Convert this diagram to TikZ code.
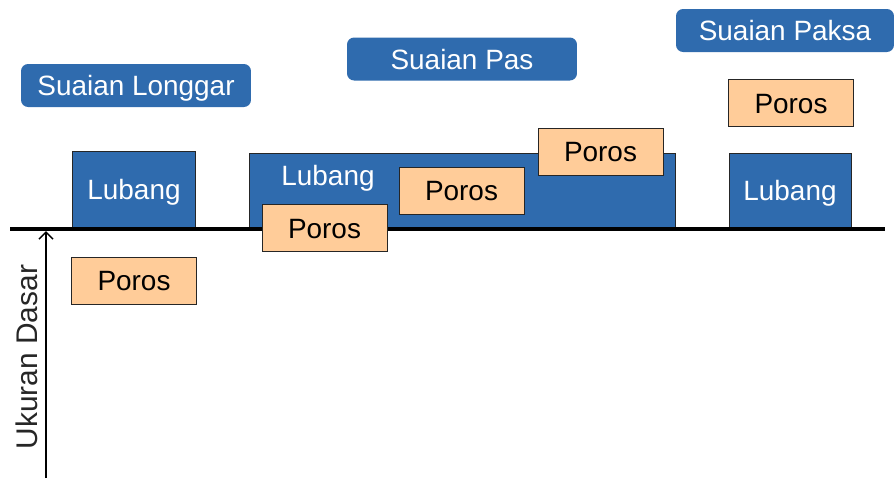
\documentclass[tikz,border=0pt]{standalone}
\usepackage{fontspec}
\setmainfont{Liberation Sans}
\usepackage{tikz}
\usetikzlibrary{positioning,arrows.meta}
\definecolor{fitblue}{HTML}{2F6BAE}
\definecolor{fitpeach}{HTML}{FFCC99}
\definecolor{fitedge}{HTML}{262626}

\begin{document}
\begin{tikzpicture}[
  x=0.02cm, y=-0.02cm,
  txt/.style={font=\fontsize{15.9}{19}\selectfont, text height=11.4pt, text depth=0pt},
  titleBox/.style={txt, rounded corners=4pt, fill=fitblue, text=white, inner sep=0pt,
    minimum height=0.86cm},
  holeBox/.style={txt, draw=fitedge, line width=0.5pt, fill=fitblue, text=white, inner sep=0pt,
    minimum width=2.46cm, minimum height=1.52cm},
  shaftBox/.style={txt, draw=fitedge, line width=0.5pt, fill=fitpeach, text=black, inner sep=0pt,
    minimum width=2.5cm, minimum height=0.94cm},
  baseL/.style={line width=2.2pt, color=black},
  axisArr/.style={-{Straight Barb[length=4pt,width=8pt]}, line width=0.9pt, color=black},
]
\useasboundingbox (0,0) rectangle (894,478);
% titles
\node[titleBox, minimum width=4.6cm] (tLonggar) at (136,85.5) {Suaian Longgar};
\node[titleBox, minimum width=4.6cm] (tPas) at (462,59) {Suaian Pas};
\node[titleBox, minimum width=4.36cm] (tPaksa) at (785,30.5) {Suaian Paksa};
% holes
\node[holeBox] (lubangL) at (134,189.5) {Lubang};
\node[holeBox, minimum width=8.52cm, minimum height=1.5cm] (lubangP) at (462,190.5) {};
\node[txt, text=white] (lblP) at (328,175) {Lubang};
\node[holeBox, minimum width=2.44cm, minimum height=1.5cm] (lubangR) at (790,190.5) {Lubang};
% base line and axis
\coordinate (baseW) at (10,229);
\coordinate (baseE) at (885,229);
\draw[baseL] (baseW) -- (baseE);
\coordinate (axBot) at (46,478);
\coordinate (axTop) at (46,231);
\draw[axisArr] (axBot) -- (axTop);
\node[rotate=90, font=\fontsize{17}{20}\selectfont, text=black!85] (ukuran) at (27,357) {Ukuran Dasar};
% shafts
\foreach \n/\cx/\cy in {porosL/134/280.5, porosA/324.5/228, porosB/461.5/190.5,
  porosC/600.5/151.5, porosR/791/103} {
  \node[shaftBox] (\n) at (\cx,\cy) {Poros};
}
\end{tikzpicture}
\end{document}
